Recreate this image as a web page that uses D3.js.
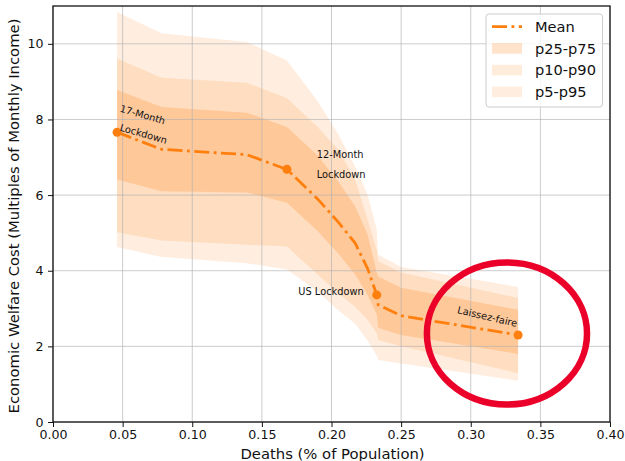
<!DOCTYPE html>
<html>
<head>
<meta charset="utf-8">
<script src="https://cdn.jsdelivr.net/npm/d3@7/dist/d3.min.js"></script>
<style>
body { margin: 0; background: #fff; }
text { font-family: "DejaVu Sans", sans-serif; }
</style>
</head>
<body>
<script>
// deaths (% of population) for each simulated policy
let deaths = [0.046, 0.078, 0.139, 0.168, 0.19, 0.205, 0.217, 0.226, 0.2325, 0.2335, 0.25, 0.334];
// mean welfare cost
let meanCost = [7.66, 7.21, 7.07, 6.68, 5.90, 5.28, 4.73, 4.05, 3.36, 3.10, 2.81, 2.30];
// percentile bands
let p25 = [6.41, 6.10, 6.07, 5.80, 5.05, 4.45, 3.90, 3.35, 2.85, 2.49, 2.30, 1.80];
let p75 = [8.78, 8.33, 8.18, 7.80, 7.05, 6.35, 5.70, 4.95, 3.95, 3.85, 3.55, 2.97];
let p10 = [5.02, 4.80, 4.69, 4.64, 3.90, 3.40, 3.05, 2.70, 2.35, 2.17, 2.00, 1.29];
let p90 = [9.61, 9.10, 8.97, 8.57, 7.80, 7.20, 6.40, 5.35, 4.55, 4.25, 3.95, 3.28];
let p5 = [4.63, 4.36, 4.20, 4.03, 3.45, 2.95, 2.60, 2.15, 1.75, 1.64, 1.55, 1.09];
let p95 = [10.84, 10.28, 10.05, 9.56, 8.49, 7.60, 6.75, 6.00, 5.09, 4.42, 4.10, 3.57];
// which points get a marker
let markedPoints = [0, 3, 8, 11];

let xTicks = [0, 0.05, 0.10, 0.15, 0.20, 0.25, 0.30, 0.35, 0.40];
let yTicks = [0, 2, 4, 6, 8, 10];

let legendNames = ["Mean", "p25-p75", "p10-p90", "p5-p95"];

// text notes on the curve
let notes = [
	{text: "17-Month", x: 0.0475, y: 8.21, rot: 16},
	{text: "Lockdown", x: 0.0475, y: 7.71, rot: 16},
	{text: "12-Month", x: 0.1894, y: 6.97, rot: 0},
	{text: "Lockdown", x: 0.1894, y: 6.46, rot: 0},
	{text: "US Lockdown", x: 0.1762, y: 3.36, rot: 0},
	{text: "Laissez-faire", x: 0.290, y: 2.88, rot: 13}
];
// red ring drawn around laissez-faire
let ring = {x: 0.326, y: 2.34, rx: 0.0575, ry: 1.88};

let margin = {top: 6, right: 15, bottom: 39, left: 53};
let width = 625 - margin.left - margin.right,
    height = 461 - margin.top - margin.bottom;

let orange = "#ff7f0e";

let data = deaths.map((d, i) => ({
	x: d, mean: meanCost[i],
	p5: p5[i], p95: p95[i], p10: p10[i], p90: p90[i], p25: p25[i], p75: p75[i]
}));

let xScale = d3.scaleLinear().domain([0, 0.4]).range([0, width]);
let yScale = d3.scaleLinear().domain([0, 11]).range([height, 0]);

let svg = d3.select("body").append("svg")
	.attr("width", 625)
	.attr("height", 461)
	.append("g")
	.attr("transform", "translate(" + margin.left + "," + margin.top + ")");

// bands, widest first
let bands = [
	{lo: "p5", hi: "p95", op: 0.13},
	{lo: "p10", hi: "p90", op: 0.15},
	{lo: "p25", hi: "p75", op: 0.22}
];
bands.forEach(b => {
	let area = d3.area()
		.x(d => xScale(d.x))
		.y0(d => yScale(d[b.lo]))
		.y1(d => yScale(d[b.hi]));
	svg.append("path")
		.datum(data)
		.attr("d", area)
		.attr("fill", orange)
		.attr("fill-opacity", b.op);
});

// grid
svg.append("g").selectAll("line.vg")
	.data(xTicks)
	.enter().append("line")
	.attr("x1", d => xScale(d)).attr("x2", d => xScale(d))
	.attr("y1", 0).attr("y2", height)
	.attr("stroke", "#b0b0b0").attr("stroke-opacity", 0.65).attr("stroke-width", 1);
svg.append("g").selectAll("line.hg")
	.data(yTicks)
	.enter().append("line")
	.attr("y1", d => yScale(d)).attr("y2", d => yScale(d))
	.attr("x1", 0).attr("x2", width)
	.attr("stroke", "#b0b0b0").attr("stroke-opacity", 0.65).attr("stroke-width", 1);

// mean line
let line = d3.line().x(d => xScale(d.x)).y(d => yScale(d.mean));
svg.append("path")
	.datum(data)
	.attr("d", line)
	.attr("fill", "none")
	.attr("stroke", orange)
	.attr("stroke-width", 2.8)
	.attr("stroke-dasharray", "15,4.5,2.8,4.5");

svg.selectAll("circle.pt")
	.data(markedPoints.map(i => data[i]))
	.enter().append("circle")
	.attr("cx", d => xScale(d.x))
	.attr("cy", d => yScale(d.mean))
	.attr("r", 4.5)
	.attr("fill", orange);

// notes
svg.selectAll("text.note")
	.data(notes)
	.enter().append("text")
	.attr("transform", d => "translate(" + xScale(d.x) + "," + yScale(d.y) + ") rotate(" + d.rot + ")")
	.attr("font-size", "9.8px")
	.attr("fill", "#111")
	.text(d => d.text);

// axes
let xAxis = d3.axisBottom(xScale).tickValues(xTicks).tickFormat(d3.format(".2f")).tickSize(5).tickPadding(3.5);
let yAxis = d3.axisLeft(yScale).tickValues(yTicks).tickFormat(d3.format("d")).tickSize(5).tickPadding(4.5);

let gx = svg.append("g")
	.attr("transform", "translate(0," + height + ")")
	.call(xAxis);
let gy = svg.append("g").call(yAxis);
[gx, gy].forEach(g => {
	g.select(".domain").remove();
	g.selectAll("text").attr("font-size", "12.6px").attr("fill", "#111").attr("font-family", "DejaVu Sans");
	g.selectAll("line").attr("stroke", "#111").attr("stroke-width", 1);
});

// frame
svg.append("rect")
	.attr("width", width).attr("height", height)
	.attr("fill", "none").attr("stroke", "#111").attr("stroke-width", 1.3);

// axis titles
svg.append("text")
	.attr("x", width / 2 + 1).attr("y", height + 36.5)
	.attr("text-anchor", "middle")
	.attr("font-size", "14.8px")
	.attr("fill", "#111")
	.text("Deaths (% of Population)");
svg.append("text")
	.attr("transform", "translate(" + (-34) + "," + (height / 2 + 2) + ") rotate(-90)")
	.attr("text-anchor", "middle")
	.attr("font-size", "14.8px")
	.attr("fill", "#111")
	.text("Economic Welfare Cost (Multiples of Monthly Income)");

// legend
let legend = svg.append("g").attr("transform", "translate(" + (width - 124) + ",8)");
legend.append("rect")
	.attr("width", 116.5).attr("height", 93)
	.attr("rx", 3)
	.attr("fill", "#fff").attr("fill-opacity", 0.8)
	.attr("stroke", "#cccccc").attr("stroke-width", 1);
let legendOps = [0, 0.22, 0.15, 0.13];
legendNames.forEach((name, i) => {
	let cy = 12.7 + i * 21.7;
	if (i === 0) {
		legend.append("line")
			.attr("x1", 6).attr("x2", 36).attr("y1", cy).attr("y2", cy)
			.attr("stroke", orange).attr("stroke-width", 2.8)
			.attr("stroke-dasharray", "15,4.5,2.8,4.5");
	} else {
		legend.append("rect")
			.attr("x", 6).attr("y", cy - 5.3).attr("width", 30).attr("height", 10.6)
			.attr("fill", orange).attr("fill-opacity", legendOps[i]);
	}
	legend.append("text")
		.attr("x", 49).attr("y", cy + 5.3)
		.attr("font-size", "14.6px")
		.attr("fill", "#111")
		.text(name);
});

// red ring
svg.append("ellipse")
	.attr("cx", xScale(ring.x))
	.attr("cy", yScale(ring.y))
	.attr("rx", xScale(ring.rx) - xScale(0))
	.attr("ry", yScale(0) - yScale(ring.ry))
	.attr("fill", "none")
	.attr("stroke", "#ea0029")
	.attr("stroke-width", 6.5);
</script>
</body>
</html>
